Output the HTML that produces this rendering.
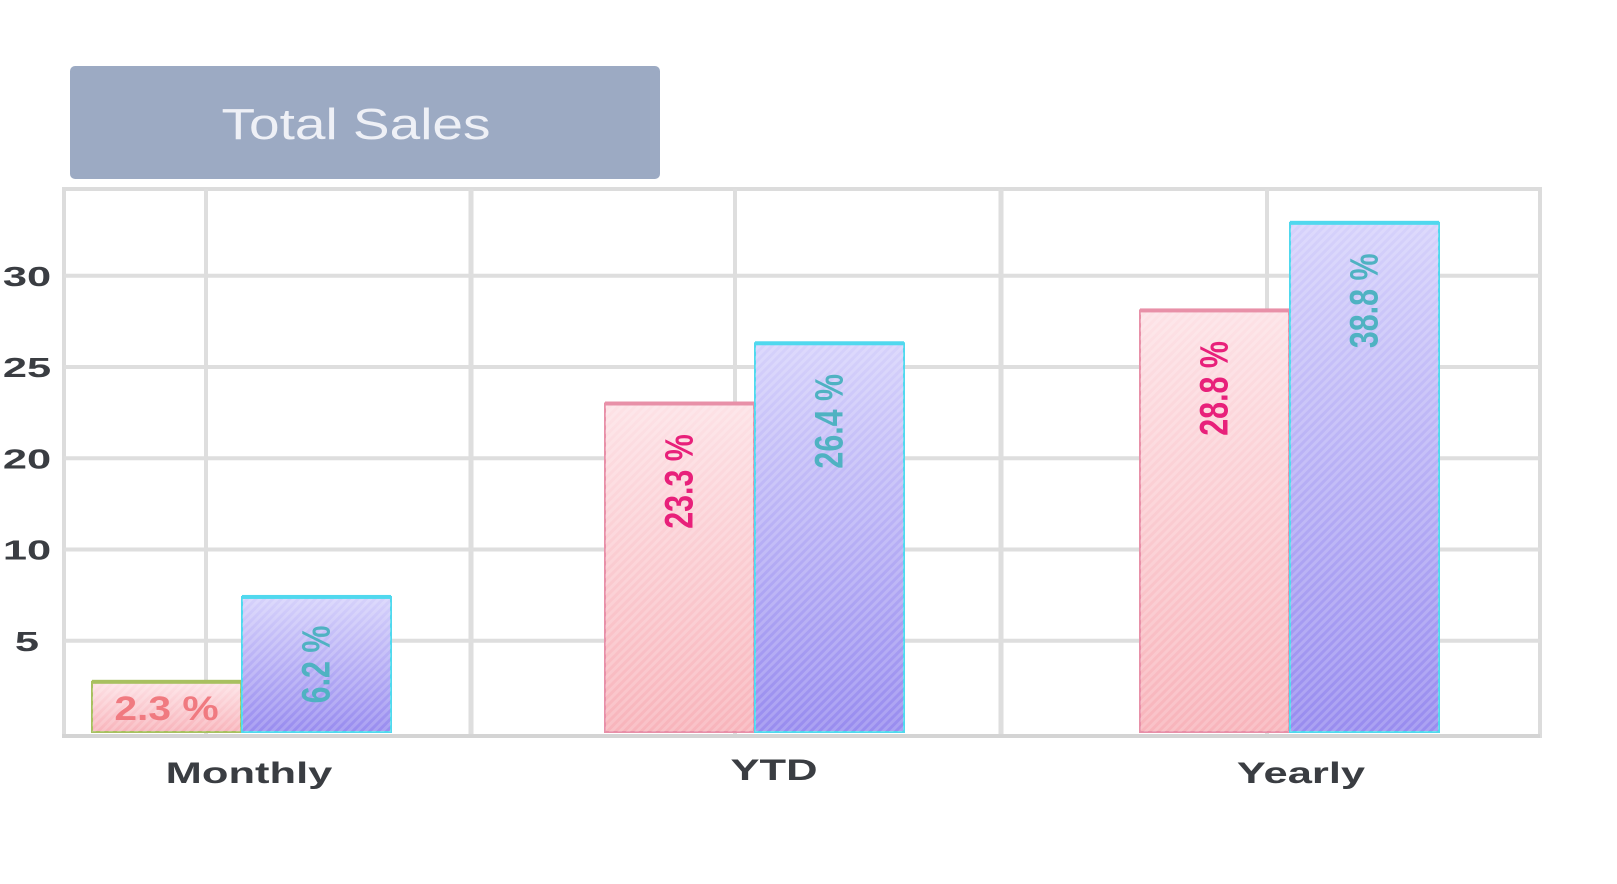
<!DOCTYPE html>
<html><head><meta charset="utf-8"><style>
html,body{margin:0;padding:0;background:#fff;}
svg{display:block;font-family:"Liberation Sans",sans-serif;}
</style></head><body>
<svg id="chart" width="1617" height="884" viewBox="0 0 1617 884">
<defs>
<linearGradient id="gRed" x1="0" y1="0" x2="0" y2="1"><stop offset="0" stop-color="#fde2e6"/><stop offset="1" stop-color="#f8b4bb"/></linearGradient>
<linearGradient id="gBlue" x1="0" y1="0" x2="0" y2="1"><stop offset="0" stop-color="#d6d2fb"/><stop offset="1" stop-color="#988cef"/></linearGradient>
<pattern id="stripes" width="6" height="6" patternUnits="userSpaceOnUse" patternTransform="rotate(45)"><rect width="3" height="6" fill="#fff" opacity="0.18"/></pattern>
</defs>
<rect x="70" y="66" width="590" height="113" rx="5" fill="#9caac3"/>
<text x="0" y="0" transform="translate(356,139) scale(1.25,1)" text-anchor="middle" font-size="44" fill="#eef0f6">Total Sales</text>
<g id="grid"></g>
<g id="bars"></g>
<g id="labels"></g>
</svg>
<script>
const categories = ["Monthly", "YTD", "Yearly"];
const seriesA = [2.75, 18.0, 23.1];
const seriesB = [7.4, 21.3, 27.9];
const labelsA = ["2.3 %", "23.3 %", "28.8 %"];
const labelsB = ["6.2 %", "26.4 %", "38.8 %"];
const tickValues = [5, 10, 15, 20, 25];
const tickLabels = ["5", "10", "20", "25", "30"];

const NS = "http://www.w3.org/2000/svg";
const baseY = 732, unit = 18.25;
const plotL = 64, plotR = 1540, plotT = 189;
const groupL = [92, 605, 1140], barW = 149;
const catShift = [4, 16, 8];
function y(v){ return baseY - v * unit; }
function mk(tag, attrs, parent){ const e = document.createElementNS(NS, tag); for (const k in attrs) e.setAttribute(k, attrs[k]); parent.appendChild(e); return e; }
const grid = document.getElementById('grid'), bars = document.getElementById('bars'), labs = document.getElementById('labels');

const frame = mk('rect', {x: plotL, y: plotT, width: plotR - plotL, height: 736 - plotT, fill: '#fff', stroke: '#dcdcdc', 'stroke-width': 4}, grid);


[206, 471, 735, 1001, 1267].forEach((x, i) => {
  const l = mk('line', {x1: x, x2: x, y1: plotT, y2: 736, stroke: '#dedede', 'stroke-width': (i === 1 || i === 3) ? 5 : 4}, grid);
  
  
});
tickValues.forEach((v, i) => {
  const l = mk('line', {x1: plotL, x2: plotR, y1: y(v), y2: y(v), stroke: '#dedede', 'stroke-width': 4}, grid);
  
  
  const t = mk('text', {x: 0, y: 0, transform: `translate(27,${y(v) + 10}) scale(1.55,1)`, 'text-anchor': 'middle', 'font-size': 28, 'font-weight': 'bold', fill: '#3a3d42'}, grid);
  t.textContent = tickLabels[i];
  
  
});
const base = mk('line', {x1: plotL - 2, x2: plotR, y1: 736, y2: 736, stroke: '#d4d4d4', 'stroke-width': 4}, grid);



categories.forEach((c, i) => {
  const xa = groupL[i], xb = xa + barW + 1;
  [[seriesA[i], xa, 'url(#gRed)', i === 0 ? '#a8c060' : '#e890a8', labelsA[i], 'a'], [seriesB[i], xb, 'url(#gBlue)', '#50d8ee', labelsB[i], 'b']].forEach(([v, x, fill, stroke, lab, s]) => {
    const top = y(v), h = baseY - top;
    const r = mk('rect', {x: x, y: top, width: barW, height: h, fill: fill, stroke: stroke, 'stroke-width': 2}, bars);
    
    
    mk('rect', {x: x, y: top, width: barW, height: h, fill: 'url(#stripes)'}, bars);
    mk('rect', {x: x, y: top - 2, width: barW, height: 4, fill: stroke}, bars);
    const cx = x + barW / 2;
    let t;
    if (h < 80) {
      t = mk('text', {x: 0, y: 0, transform: `translate(${cx},${top + h / 2 + 13}) scale(1.2,1)`, 'text-anchor': 'middle', 'font-size': 34, 'font-weight': 'bold', fill: '#f07a80'}, labs);
    } else {
      const cy = h < 160 ? top + h / 2 : top + 78;
      t = mk('text', {x: 0, y: 0, transform: `translate(${cx + 13},${cy}) rotate(-90) scale(0.95,1.25)`, 'text-anchor': 'middle', 'font-size': 32, 'font-weight': 'bold', fill: s === 'a' ? '#e8207a' : '#4fb2c2'}, labs);
    }
    t.textContent = lab;
    
    
  });
  const ct = mk('text', {x: 0, y: 0, transform: `translate(${xa + barW + 4 + catShift[i]},${i === 1 ? 780 : 783}) scale(1.45,1)`, 'text-anchor': 'middle', 'font-size': 30, 'font-weight': 'bold', fill: '#3a3d42'}, labs);
  ct.textContent = c;
  
  
});
</script>
</body></html>
